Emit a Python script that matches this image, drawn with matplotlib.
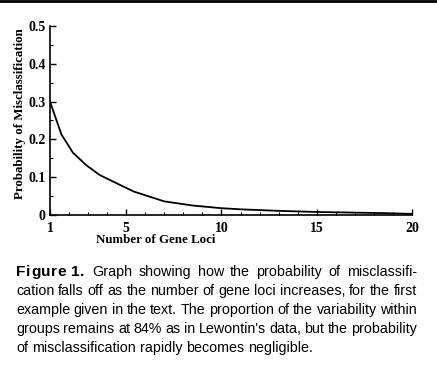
import matplotlib
matplotlib.use("Agg")
import matplotlib.pyplot as plt
from matplotlib.lines import Line2D
from matplotlib.ticker import MultipleLocator

# values
loci = [1, 1.6, 2.2, 2.9, 3.6, 4.7, 5.4, 7, 8.5, 10, 11, 13, 15, 18.5, 20]
prob = [0.30, 0.213, 0.165, 0.132, 0.106, 0.079, 0.062, 0.036, 0.025,
        0.018, 0.015, 0.011, 0.008, 0.005, 0.003]

x_ticks = [1, 5, 10, 15, 20]
y_ticks = [0, 0.1, 0.2, 0.3, 0.4, 0.5]
y_tick_labels = ["0", "0.1", "0.2", "0.3", "0.4", "0.5"]

caption_head = "Figure 1."
caption_lines = [
    "Graph showing how the probability of misclassifi-",
    "cation falls off as the number of gene loci increases, for the first",
    "example given in the text. The proportion of the variability within",
    "groups remains at 84% as in Lewontin's data, but the probability",
    "of misclassification rapidly becomes negligible.",
]

serif = "Liberation Serif"
sans = "Liberation Sans"
W, H = 437, 371

fig = plt.figure(figsize=(W / 100, H / 100), dpi=100)
ax = fig.add_axes([50 / W, 1 - 215 / H, 362 / W, 189 / H])

ax.plot(loci, prob, color="black", lw=1.3)

ax.set_xlim(1, 20)
ax.set_ylim(0, 0.5)
ax.spines["top"].set_visible(False)
ax.spines["right"].set_visible(False)
for s in ("left", "bottom"):
    ax.spines[s].set_linewidth(1.2)

ax.set_xticks(x_ticks)
ax.set_yticks(y_ticks)
ax.set_yticklabels(y_tick_labels)
ax.xaxis.set_minor_locator(MultipleLocator(1))
ax.yaxis.set_minor_locator(MultipleLocator(0.05))
ax.tick_params(which="major", direction="in", length=4, width=1)
ax.tick_params(axis="x", which="major", pad=5)
ax.tick_params(axis="y", which="major", pad=3)
ax.tick_params(which="minor", direction="in", length=2, width=0.8)
for lab in ax.get_xticklabels() + ax.get_yticklabels():
    lab.set_fontfamily(serif)
    lab.set_fontweight("bold")
    lab.set_fontsize(10)

ax.set_ylabel("Probability of Misclassification", fontfamily=serif,
              fontweight="bold", fontsize=9.3)
ax.yaxis.set_label_coords(-0.066, 0.534)
ax.set_xlabel("Number of Gene Loci", fontfamily=serif, fontweight="bold",
              fontsize=9.3)
ax.xaxis.set_label_coords(0.293, -0.1)

# rule at the top edge of the page
fig.add_artist(Line2D([0, 1], [0.998, 0.998], transform=fig.transFigure,
                      color="black", lw=2))

# caption, justified between left and right edges
renderer = fig.canvas.get_renderer()
left_px, right_px = 16, 417
y_px = [272, 291, 310, 329, 348]
fs = 10.3


def px_width(t):
    return t.get_window_extent(renderer=renderer).width


def justify(words, x0, y, last=False):
    arts = []
    for w in words:
        arts.append(fig.text(0, 1 - y / H, w, fontfamily=sans, fontsize=fs,
                             va="center"))
    widths = [px_width(a) for a in arts]
    space = fs * 0.28 * 100 / 72
    if not last and len(words) > 1:
        space = (right_px - x0 - sum(widths)) / (len(words) - 1)
    x = x0
    for a, w in zip(arts, widths):
        a.set_x(x / W)
        x += w + space


# slightly letter-spaced bold heading
x = left_px
for ch in caption_head:
    t = fig.text(x / W, 1 - y_px[0] / H, ch, fontfamily=sans,
                 fontweight="bold", fontsize=fs + 0.8, va="center")
    x += px_width(t) + 0.6 if ch != " " else 4.5
justify(caption_lines[0].split(), x + 7, y_px[0])
for i, line in enumerate(caption_lines[1:], start=1):
    justify(line.split(), left_px, y_px[i], last=(i == len(caption_lines) - 1))

fig.savefig("out.png", dpi=100)
